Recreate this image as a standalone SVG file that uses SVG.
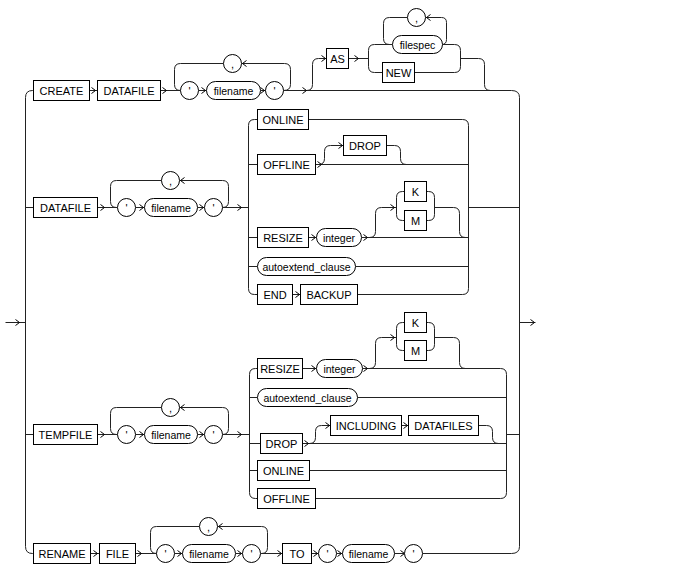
<svg xmlns="http://www.w3.org/2000/svg" width="688" height="573" viewBox="0 0 688 573">
<style>
.b{fill:#fff;stroke:#000;stroke-width:1}
.l{fill:none;stroke:#222;stroke-width:1}
.ch{fill:none;stroke:#000;stroke-width:1}
text{font-family:"Liberation Sans",Arial,sans-serif;font-size:11px;text-anchor:middle;fill:#000}
text.o{font-size:10.5px}
</style>
<rect width="688" height="573" fill="#fff"/>
<g transform="translate(0.5,0.5)">
<g id="connectors">
<path class="l" d="M5,322 H25"/>
<path class="l" d="M33,90 H32 Q25,90 25,97 V546 Q25,553 32,553 H33"/>
<path class="l" d="M511,90 Q519,90 519,97 V546 Q519,553 511,553"/>
<path class="l" d="M519,322 H535"/>
<path class="l" d="M89,90 H97 M160,90 H180 M198,90 H206 M260,90 H265 M283,90 H511"/>
<path class="l" d="M223,63 H180 Q174,63 174,69 V84 Q174,90 180,90"/>
<path class="l" d="M283,90 Q290,90 290,84 V69 Q290,63 284,63 H241"/>
<path class="l" d="M306,90 Q312,90 312,84 V64 Q312,58 318,58 H326"/>
<path class="l" d="M348,58 H368"/>
<path class="l" d="M392,44 H374 Q368,44 368,50 V66 Q368,72 374,72 H382"/>
<path class="l" d="M407,17 H389 Q383,17 383,23 V38 Q383,44 389,44"/>
<path class="l" d="M441,44 Q446,44 446,39 V22 Q446,17 441,17 H425"/>
<path class="l" d="M442,44 H454 Q460,44 460,50 V66 Q460,72 454,72 H414"/>
<path class="l" d="M460,58 H478 Q484,58 484,64 V84 Q484,90 490,90"/>
<path class="l" d="M25,207 H33 M97,207 H117 M135,207 H144 M197,207 H204 M222,207 H248"/>
<path class="l" d="M161,180 H116 Q110,180 110,186 V201 Q110,207 116,207"/>
<path class="l" d="M222,207 Q228,207 228,201 V186 Q228,180 222,180 H179"/>
<path class="l" d="M257,119 H254 Q248,119 248,125 V288 Q248,294 254,294 H257"/>
<path class="l" d="M248,164 H257 M248,237 H257 M248,266 H257"/>
<path class="l" d="M308,119 H462 Q468,119 468,125 V288 Q468,294 462,294 H357"/>
<path class="l" d="M315,164 H468 M361,237 H468 M355,266 H468 M292,294 H300 M308,237 H316"/>
<path class="l" d="M318,164 Q324,164 324,158 V151 Q324,145 330,145 H343"/>
<path class="l" d="M386,145 H394 Q400,145 400,151 V158 Q400,164 406,164"/>
<path class="l" d="M369,237 Q375,237 375,231 V213 Q375,207 381,207 H396"/>
<path class="l" d="M404,191 H402 Q396,191 396,197 V214 Q396,220 402,220 H404"/>
<path class="l" d="M426,191 H428 Q434,191 434,197 V214 Q434,220 428,220 H426"/>
<path class="l" d="M434,207 H453 Q459,207 459,213 V231 Q459,237 465,237"/>
<path class="l" d="M468,207 H519"/>
<path class="l" d="M25,434 H33 M97,434 H117 M135,434 H144 M197,434 H204 M222,434 H249"/>
<path class="l" d="M161,407 H116 Q110,407 110,413 V428 Q110,434 116,434"/>
<path class="l" d="M222,434 Q228,434 228,428 V413 Q228,407 222,407 H179"/>
<path class="l" d="M257,368 H255 Q249,368 249,374 V492 Q249,498 255,498 H257"/>
<path class="l" d="M249,397 H257 M249,443 H260 M249,470 H257"/>
<path class="l" d="M362,368 H500 Q506,368 506,374 V492 Q506,498 500,498 H315"/>
<path class="l" d="M357,397 H506 M302,443 H506 M309,470 H506 M302,368 H316 M401,425 H408"/>
<path class="l" d="M369,368 Q375,368 375,362 V343 Q375,337 381,337 H396"/>
<path class="l" d="M404,322 H402 Q396,322 396,328 V344 Q396,350 402,350 H404"/>
<path class="l" d="M426,322 H428 Q434,322 434,328 V344 Q434,350 428,350 H426"/>
<path class="l" d="M434,337 H453 Q459,337 459,343 V362 Q459,368 465,368"/>
<path class="l" d="M309,443 Q315,443 315,437 V431 Q315,425 321,425 H330"/>
<path class="l" d="M478,425 H486 Q492,425 492,431 V437 Q492,443 498,443"/>
<path class="l" d="M506,434 H519"/>
<path class="l" d="M90,553 H99 M135,553 H156 M174,553 H182 M235,553 H242 M260,553 H282 M311,553 H318 M336,553 H342 M394,553 H404 M422,553 H511"/>
<path class="l" d="M199,526 H156 Q150,526 150,532 V547 Q150,553 156,553"/>
<path class="l" d="M261,553 Q267,553 267,547 V532 Q267,526 261,526 H217"/>
<path class="ch" d="M15,319 L19,322 L15,325 M530,319 L534,322 L530,325
M91,87 L95,90 L91,93 M162,87 L166,90 L162,93 M201,87 L205,90 L201,93 M260,87 L264,90 L260,93 M302,87 L306,90 L302,93
M321,55 L325,58 L321,61 M354,55 L358,58 L354,61 M246,60 L242,63 L246,66 M430,14 L426,17 L430,20
M100,204 L104,207 L100,210 M139,204 L143,207 L139,210 M199,204 L203,207 L199,210 M237,204 L241,207 L237,210 M184,177 L180,180 L184,183
M317,161 L321,164 L317,167 M338,142 L342,145 L338,148 M311,234 L315,237 L311,240 M363,234 L367,237 L363,240 M390,204 L394,207 L390,210 M295,291 L299,294 L295,297
M100,431 L104,434 L100,437 M139,431 L143,434 L139,437 M199,431 L203,434 L199,437 M237,431 L241,434 L237,437 M184,404 L180,407 L184,410
M311,365 L315,368 L311,371 M363,365 L367,368 L363,371 M390,334 L394,337 L390,340 M304,440 L308,443 L304,446 M325,422 L329,425 L325,428 M403,422 L407,425 L403,428
M93,550 L97,553 L93,556 M137,550 L141,553 L137,556 M177,550 L181,553 L177,556 M237,550 L241,553 L237,556 M222,523 L218,526 L222,529
M277,550 L281,553 L277,556 M313,550 L317,553 L313,556 M337,550 L341,553 L337,556 M400,550 L404,553 L400,556"/>
</g>
<g id="create"><rect class="b" x="33" y="80" width="56" height="20"/><text x="61" y="94">CREATE</text></g>
<g id="datafile1"><rect class="b" x="97" y="80" width="63" height="20"/><text x="128.5" y="94">DATAFILE</text></g>
<g id="q1a"><circle class="b" cx="189" cy="90" r="9"/><text x="189" y="94">'</text></g>
<g id="filename1"><rect class="b" x="206" y="81" width="54" height="18" rx="9"/><text class="o" x="233" y="94">filename</text></g>
<g id="q1b"><circle class="b" cx="274" cy="90" r="9"/><text x="274" y="94">'</text></g>
<g id="comma1"><circle class="b" cx="232" cy="63" r="9"/><text x="232" y="67">,</text></g>
<g id="as"><rect class="b" x="326" y="48" width="22" height="20"/><text x="337" y="62">AS</text></g>
<g id="filespec"><rect class="b" x="392" y="35" width="50" height="18" rx="9"/><text class="o" x="417" y="48">filespec</text></g>
<g id="comma2"><circle class="b" cx="416" cy="17" r="9"/><text x="416" y="21">,</text></g>
<g id="new"><rect class="b" x="382" y="62" width="32" height="20"/><text x="398" y="76">NEW</text></g>
<g id="datafile2"><rect class="b" x="33" y="197" width="64" height="20"/><text x="65" y="211">DATAFILE</text></g>
<g id="q2a"><circle class="b" cx="126" cy="207" r="9"/><text x="126" y="211">'</text></g>
<g id="filename2"><rect class="b" x="144" y="198" width="53" height="18" rx="9"/><text class="o" x="170.5" y="211">filename</text></g>
<g id="q2b"><circle class="b" cx="213" cy="207" r="9"/><text x="213" y="211">'</text></g>
<g id="comma3"><circle class="b" cx="170" cy="180" r="9"/><text x="170" y="184">,</text></g>
<g id="online1"><rect class="b" x="257" y="109" width="51" height="20"/><text x="282.5" y="123">ONLINE</text></g>
<g id="offline1"><rect class="b" x="257" y="154" width="58" height="20"/><text x="286" y="168">OFFLINE</text></g>
<g id="drop1"><rect class="b" x="343" y="135" width="43" height="20"/><text x="364.5" y="149">DROP</text></g>
<g id="resize1"><rect class="b" x="257" y="227" width="51" height="20"/><text x="282.5" y="241">RESIZE</text></g>
<g id="integer1"><rect class="b" x="316" y="228" width="45" height="18" rx="9"/><text class="o" x="338.5" y="241">integer</text></g>
<g id="k1"><rect class="b" x="404" y="181" width="22" height="20"/><text x="415" y="195">K</text></g>
<g id="m1"><rect class="b" x="404" y="210" width="22" height="20"/><text x="415" y="224">M</text></g>
<g id="autoextend1"><rect class="b" x="257" y="257" width="98" height="18" rx="9"/><text class="o" x="306" y="270">autoextend_clause</text></g>
<g id="end"><rect class="b" x="257" y="284" width="35" height="20"/><text x="274.5" y="298">END</text></g>
<g id="backup"><rect class="b" x="300" y="284" width="57" height="20"/><text x="328.5" y="298">BACKUP</text></g>
<g id="tempfile"><rect class="b" x="33" y="424" width="64" height="20"/><text x="65" y="438">TEMPFILE</text></g>
<g id="q3a"><circle class="b" cx="126" cy="434" r="9"/><text x="126" y="438">'</text></g>
<g id="filename3"><rect class="b" x="144" y="425" width="53" height="18" rx="9"/><text class="o" x="170.5" y="438">filename</text></g>
<g id="q3b"><circle class="b" cx="213" cy="434" r="9"/><text x="213" y="438">'</text></g>
<g id="comma4"><circle class="b" cx="170" cy="407" r="9"/><text x="170" y="411">,</text></g>
<g id="resize2"><rect class="b" x="257" y="358" width="45" height="20"/><text x="279.5" y="372">RESIZE</text></g>
<g id="integer2"><rect class="b" x="316" y="359" width="46" height="18" rx="9"/><text class="o" x="339" y="372">integer</text></g>
<g id="k2"><rect class="b" x="404" y="312" width="22" height="20"/><text x="415" y="326">K</text></g>
<g id="m2"><rect class="b" x="404" y="340" width="22" height="20"/><text x="415" y="354">M</text></g>
<g id="autoextend2"><rect class="b" x="257" y="388" width="100" height="18" rx="9"/><text class="o" x="307" y="401">autoextend_clause</text></g>
<g id="drop2"><rect class="b" x="260" y="433" width="42" height="20"/><text x="281" y="447">DROP</text></g>
<g id="including"><rect class="b" x="330" y="415" width="71" height="20"/><text x="365.5" y="429">INCLUDING</text></g>
<g id="datafiles"><rect class="b" x="408" y="415" width="70" height="20"/><text x="443" y="429">DATAFILES</text></g>
<g id="online2"><rect class="b" x="257" y="460" width="52" height="20"/><text x="283" y="474">ONLINE</text></g>
<g id="offline2"><rect class="b" x="257" y="488" width="58" height="20"/><text x="286" y="502">OFFLINE</text></g>
<g id="rename"><rect class="b" x="33" y="543" width="57" height="20"/><text x="61.5" y="557">RENAME</text></g>
<g id="file"><rect class="b" x="99" y="543" width="36" height="20"/><text x="117" y="557">FILE</text></g>
<g id="q4a"><circle class="b" cx="165" cy="553" r="9"/><text x="165" y="557">'</text></g>
<g id="filename4"><rect class="b" x="182" y="544" width="53" height="18" rx="9"/><text class="o" x="208.5" y="557">filename</text></g>
<g id="q4b"><circle class="b" cx="251" cy="553" r="9"/><text x="251" y="557">'</text></g>
<g id="comma5"><circle class="b" cx="208" cy="526" r="9"/><text x="208" y="530">,</text></g>
<g id="to"><rect class="b" x="282" y="543" width="29" height="20"/><text x="296.5" y="557">TO</text></g>
<g id="q4c"><circle class="b" cx="327" cy="553" r="9"/><text x="327" y="557">'</text></g>
<g id="filename5"><rect class="b" x="342" y="544" width="52" height="18" rx="9"/><text class="o" x="368" y="557">filename</text></g>
<g id="q4d"><circle class="b" cx="413" cy="553" r="9"/><text x="413" y="557">'</text></g>
</g>
</svg>
